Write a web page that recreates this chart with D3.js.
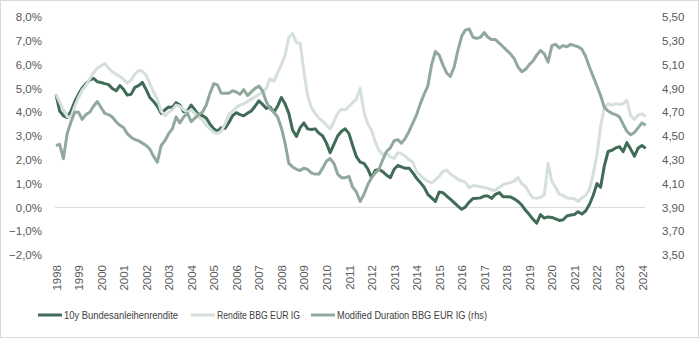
<!DOCTYPE html>
<html>
<head>
<meta charset="utf-8">
<script src="https://cdn.jsdelivr.net/npm/d3@7"></script>
<style>
  body { margin: 0; background: #fff; }
  svg { display: block; }
  .tick text { fill: #595959; font-family: "Liberation Sans", Arial, sans-serif; font-size: 11.5px; }
  .legend text { fill: #404040; font-family: "Liberation Sans", Arial, sans-serif; font-size: 11.5px; }
</style>
</head>
<body>
<div id="chart"></div>
<script>
// series start January 1998, one value every second month
var firstMonth = new Date(1998, 0, 1);
var stepMonths = 2;

var yearTicks = d3.range(1998, 2025);
var leftTicks = [-2, -1, 0, 1, 2, 3, 4, 5, 6, 7, 8];
var rightTicks = [3.5, 3.7, 3.9, 4.1, 4.3, 4.5, 4.7, 4.9, 5.1, 5.3, 5.5];

var seriesNames = ["10y Bundesanleihenrendite", "Rendite BBG EUR IG", "Modified Duration BBG EUR IG (rhs)"];

// 10y Bund yield, %
var bund10y = [
  4.75, 4.05, 3.85, 3.78, 4.05, 4.45,
  4.75, 5.02, 5.2, 5.35, 5.42, 5.28,
  5.25, 5.2, 5.16, 5.0, 4.9, 5.12,
  4.95, 4.72, 4.75, 5.04, 5.12, 5.25,
  4.95, 4.62, 4.45, 4.25, 3.95, 4.1,
  4.22, 4.2, 4.4, 4.3, 4.02, 4.05,
  4.3, 4.1, 3.88, 3.86, 3.75, 3.5,
  3.3, 3.2, 3.35, 3.32, 3.56, 3.85,
  3.98, 3.9, 3.85, 3.96, 4.05, 4.25,
  4.48, 4.33, 4.16, 4.22, 4.0, 4.25,
  4.62, 4.35, 3.95, 3.25, 2.98, 3.35,
  3.55, 3.3, 3.27, 3.3, 3.12, 3.0,
  2.7, 2.3, 2.65, 3.0, 3.2, 3.3,
  3.1, 2.6, 2.13, 1.9, 1.85, 1.62,
  1.25, 1.55, 1.6, 1.5, 1.35, 1.25,
  1.6, 1.76, 1.7, 1.64, 1.65, 1.45,
  1.22, 1.05, 0.85, 0.55, 0.4, 0.25,
  0.65, 0.62, 0.48, 0.35, 0.2, 0.05,
  -0.08, 0.02, 0.22, 0.37, 0.38, 0.4,
  0.48, 0.48, 0.38, 0.55, 0.62, 0.45,
  0.45, 0.44, 0.36, 0.25, 0.1, -0.12,
  -0.3, -0.5, -0.66, -0.3, -0.45, -0.4,
  -0.42, -0.48, -0.55, -0.52, -0.36, -0.32,
  -0.3, -0.18, -0.28, -0.15, 0.12, 0.5,
  1.0, 0.85, 1.75, 2.35, 2.4, 2.5,
  2.55, 2.34, 2.72, 2.45, 2.15, 2.5,
  2.6, 2.48
];

// yield of the Bloomberg EUR investment grade index, %
var igYield = [
  4.75, 4.42, 4.1, 3.82, 3.8, 4.25,
  4.62, 4.92, 5.12, 5.4, 5.65, 5.86,
  5.95, 6.05, 5.85, 5.7, 5.6, 5.5,
  5.38, 5.22, 5.35, 5.6, 5.75, 5.72,
  5.55, 5.2, 4.85, 4.55, 4.05, 3.85,
  4.0, 4.1, 4.3, 4.25, 4.1, 4.0,
  4.1, 3.95, 3.8, 3.68, 3.45, 3.3,
  3.15, 3.11, 3.2, 3.5, 3.9, 4.05,
  4.2, 4.3, 4.35, 4.45, 4.55, 4.65,
  4.74, 4.84, 5.0, 5.4, 5.3, 5.65,
  6.0, 6.4, 7.15, 7.3, 6.92, 6.9,
  5.7, 4.7, 4.2, 3.95, 3.75, 3.62,
  3.45, 3.3, 3.6, 3.95, 4.12, 4.1,
  4.25, 4.4, 4.55, 5.0, 4.0, 3.5,
  3.25, 2.75, 2.4, 2.22, 2.3, 2.12,
  2.05, 2.3, 2.25, 2.15, 2.0, 1.9,
  1.5, 1.35, 1.2, 1.1, 1.03, 1.15,
  1.3, 1.5, 1.57, 1.4, 1.3, 1.18,
  1.12, 1.05, 0.82, 0.92, 0.9, 0.87,
  0.84, 0.8, 0.73, 0.72, 0.85, 0.95,
  1.01, 1.04, 1.1, 1.25, 1.0, 0.88,
  0.6, 0.4, 0.38, 0.42, 0.52, 1.85,
  1.1, 0.85, 0.55, 0.5, 0.4, 0.38,
  0.36, 0.25, 0.4, 0.5, 0.75, 1.4,
  2.2, 3.4, 4.2, 4.35, 4.3, 4.36,
  4.32, 4.35, 4.5, 3.85, 3.7, 3.88,
  3.93, 3.82
];

// modified duration of the same index, right axis
var modDuration = [
  4.42, 4.43, 4.31, 4.52, 4.62, 4.70,
  4.70, 4.64, 4.68, 4.70, 4.75, 4.79,
  4.74, 4.69, 4.68, 4.66, 4.62, 4.59,
  4.57, 4.52, 4.49, 4.47, 4.46, 4.44,
  4.42, 4.39, 4.33, 4.28, 4.42, 4.46,
  4.52, 4.56, 4.66, 4.61, 4.66, 4.69,
  4.62, 4.65, 4.68, 4.70, 4.76, 4.86,
  4.94, 4.93, 4.86, 4.86, 4.86, 4.88,
  4.87, 4.85, 4.89, 4.84, 4.87, 4.90,
  4.92, 4.88, 4.79, 4.73, 4.70, 4.66,
  4.57, 4.44, 4.27, 4.24, 4.22, 4.21,
  4.23, 4.22, 4.19, 4.18, 4.18, 4.23,
  4.29, 4.31, 4.27, 4.18, 4.15, 4.15,
  4.16, 4.07, 4.03, 3.95, 4.01, 4.09,
  4.15, 4.19, 4.22, 4.30, 4.37, 4.40,
  4.46, 4.47, 4.44, 4.48, 4.54, 4.61,
  4.68, 4.77, 4.85, 4.92, 5.10, 5.21,
  5.18, 5.10, 5.03, 5.00, 5.08, 5.22,
  5.34, 5.39, 5.40, 5.33, 5.32, 5.33,
  5.37, 5.33, 5.31, 5.31, 5.28, 5.25,
  5.22, 5.19, 5.15, 5.08, 5.04, 5.06,
  5.10, 5.13, 5.18, 5.22, 5.19, 5.12,
  5.26, 5.27, 5.24, 5.26, 5.25, 5.27,
  5.26, 5.25, 5.23, 5.17, 5.08, 5.00,
  4.92, 4.84, 4.74, 4.71, 4.69, 4.68,
  4.66, 4.60, 4.54, 4.51, 4.53, 4.57,
  4.61, 4.59
];

var colors = ["#3f6b57", "#d5dfdb", "#91a99c"];

var W = 699, H = 338;

var months = bund10y.map(function (d, i) { return d3.timeMonth.offset(firstMonth, i * stepMonths); });

var x = d3.scaleTime()
  .domain([new Date(1998, 0, 1), new Date(2024, 0, 1)])
  .range([56, 642]);
var yL = d3.scaleLinear().domain([-2, 8]).range([255, 17]);
var yR = d3.scaleLinear().domain([3.5, 5.5]).range([255, 17]);

var de = d3.formatLocale({ decimal: ",", thousands: ".", grouping: [3], currency: ["", " €"] });

var svg = d3.select("#chart").append("svg")
  .attr("width", W)
  .attr("height", H);

svg.append("rect")
  .attr("x", 0.5).attr("y", 0.5)
  .attr("width", W - 1).attr("height", H - 1)
  .attr("fill", "#fff")
  .attr("stroke", "#d9d9d9");

// zero line
svg.append("line")
  .attr("x1", 55).attr("x2", 645)
  .attr("y1", yL(0)).attr("y2", yL(0))
  .attr("stroke", "#d9d9d9")
  .attr("stroke-width", 1);

// left axis
var gl = svg.append("g")
  .attr("transform", "translate(42,0)")
  .call(d3.axisLeft(yL).tickValues(leftTicks).tickSize(0).tickPadding(0)
    .tickFormat(function (d) { return de.format(".1f")(d) + "%"; }));
gl.select(".domain").remove();

// right axis
var gr = svg.append("g")
  .attr("transform", "translate(662,0)")
  .call(d3.axisRight(yR).tickValues(rightTicks).tickSize(0).tickPadding(0)
    .tickFormat(de.format(".2f")));
gr.select(".domain").remove();

// year labels, rotated
var gx = svg.append("g")
  .attr("transform", "translate(0,265)")
  .call(d3.axisBottom(x).tickValues(yearTicks.map(function (yy) { return new Date(yy, 0, 1); }))
    .tickSize(0).tickFormat(d3.timeFormat("%Y")));
gx.select(".domain").remove();
gx.selectAll("text")
  .attr("transform", "rotate(-90)")
  .attr("text-anchor", "end")
  .attr("x", 0)
  .attr("y", 0)
  .attr("dy", "0.35em");

var series = [
  { values: bund10y, scale: yL, width: 3 },
  { values: igYield, scale: yL, width: 3 },
  { values: modDuration, scale: yR, width: 3 }
];

series.forEach(function (s, k) {
  var line = d3.line()
    .x(function (d, i) { return x(months[i]); })
    .y(function (d) { return s.scale(d); });
  svg.append("path")
    .datum(s.values)
    .attr("fill", "none")
    .attr("stroke", colors[k])
    .attr("stroke-width", s.width)
    .attr("stroke-linejoin", "round")
    .attr("d", line);
});

// legend; the labels are squeezed to a narrow face
var legendX = [38, 191, 311];
var legendW = [114, 83, 150];
var legend = svg.append("g").attr("class", "legend");
seriesNames.forEach(function (name, k) {
  var g = legend.append("g").attr("transform", "translate(" + legendX[k] + ",315)");
  g.append("line")
    .attr("x1", 0).attr("x2", 24)
    .attr("stroke", colors[k])
    .attr("stroke-width", 3);
  g.append("text")
    .attr("x", 26)
    .attr("dy", "0.35em")
    .attr("textLength", legendW[k])
    .attr("lengthAdjust", "spacingAndGlyphs")
    .text(name);
});
</script>
</body>
</html>
